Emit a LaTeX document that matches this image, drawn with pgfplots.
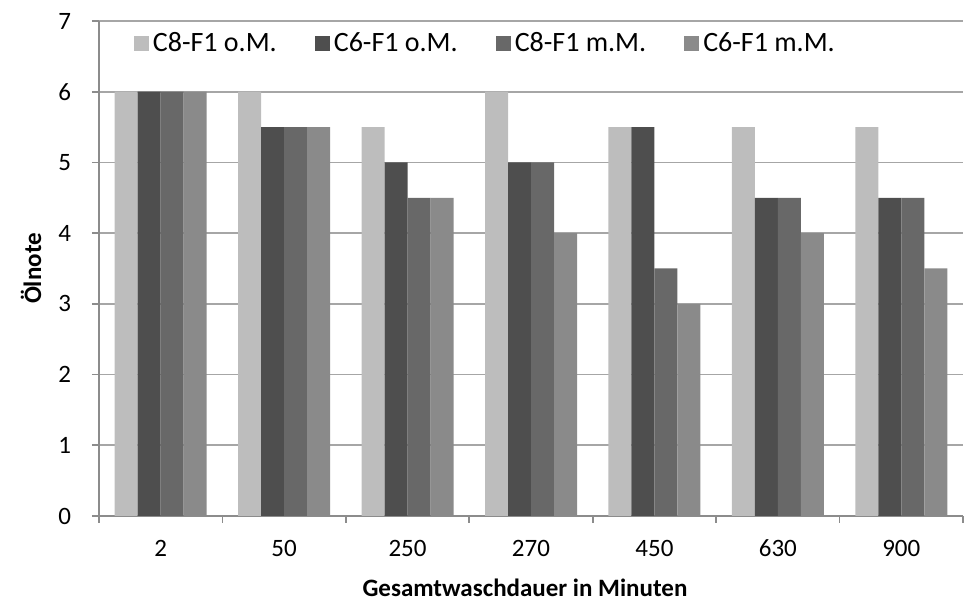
\documentclass[border=0pt]{standalone}
\usepackage{pgfplots}
\pgfplotsset{compat=1.18}
\usepackage{fontspec}
\setmainfont{Carlito}
\definecolor{sA}{HTML}{BDBDBD}
\definecolor{sB}{HTML}{4E4E4E}
\definecolor{sC}{HTML}{686868}
\definecolor{sD}{HTML}{8A8A8A}
\definecolor{gridc}{HTML}{A6A6A6}
\definecolor{axc}{HTML}{8C8C8C}
\begin{document}
\begin{tikzpicture}
\begin{axis}[
  name=ax,
  scale only axis,
  width=432pt, height=247.5pt,
  ybar=0pt, bar width=11.5pt,
  xmin=-0.5, xmax=6.5,
  ymin=0, ymax=7,
  ytick={0,1,...,7},
  xtick={0,1,...,6},
  xticklabels={2,50,250,270,450,630,900},
  minor xtick={-0.5,0.5,...,6.5},
  every major x tick/.style={draw=none},
  tick align=outside,
  major tick length=3.5pt,
  minor tick length=3.5pt,
  axis x line*=bottom,
  axis y line*=left,
  axis line style={axc, line width=0.8pt},
  tick style={axc, line width=0.8pt},
  ymajorgrids,
  major grid style={gridc, line width=0.8pt},
  /pgf/number format/assume math mode=true,
  ticklabel style={font=\fontsize{12.5}{14}\selectfont},
  xticklabel style={yshift=-5pt},
  yticklabel style={xshift=-7pt},
  xlabel={\textbf{Gesamtwaschdauer in Minuten}},
  ylabel={\textbf{Ölnote}},
  label style={font=\fontsize{12.5}{15}\selectfont},
  xlabel style={at={(axis description cs:0.493,-0.1455)}, anchor=center},
  ylabel style={at={(axis description cs:-0.0787,0.5)}, anchor=center},
  legend columns=4,
  legend style={at={(0.033,0.955)}, anchor=west, draw=none, fill=none,
    font=\fontsize{14}{16}\selectfont,
    /tikz/every even column/.append style={column sep=17pt}},
  legend image code/.code={\fill[#1] (0pt,-3.7pt) rectangle (7.5pt,3.7pt);},
]
\addplot[fill=sA, draw=none] coordinates {(0,6) (1,6) (2,5.5) (3,6) (4,5.5) (5,5.5) (6,5.5)};
\addplot[fill=sB, draw=none] coordinates {(0,6) (1,5.5) (2,5) (3,5) (4,5.5) (5,4.5) (6,4.5)};
\addplot[fill=sC, draw=none] coordinates {(0,6) (1,5.5) (2,4.5) (3,5) (4,3.5) (5,4.5) (6,4.5)};
\addplot[fill=sD, draw=none] coordinates {(0,6) (1,5.5) (2,4.5) (3,4) (4,3) (5,4) (6,3.5)};
\legend{C8-F1 o.M., C6-F1 o.M., C8-F1 m.M., C6-F1 m.M.}
\end{axis}
\path ([shift={(-49.5pt,-41.5pt)}]ax.south west) rectangle ([shift={(1pt,10.5pt)}]ax.north east);
\end{tikzpicture}
\end{document}
